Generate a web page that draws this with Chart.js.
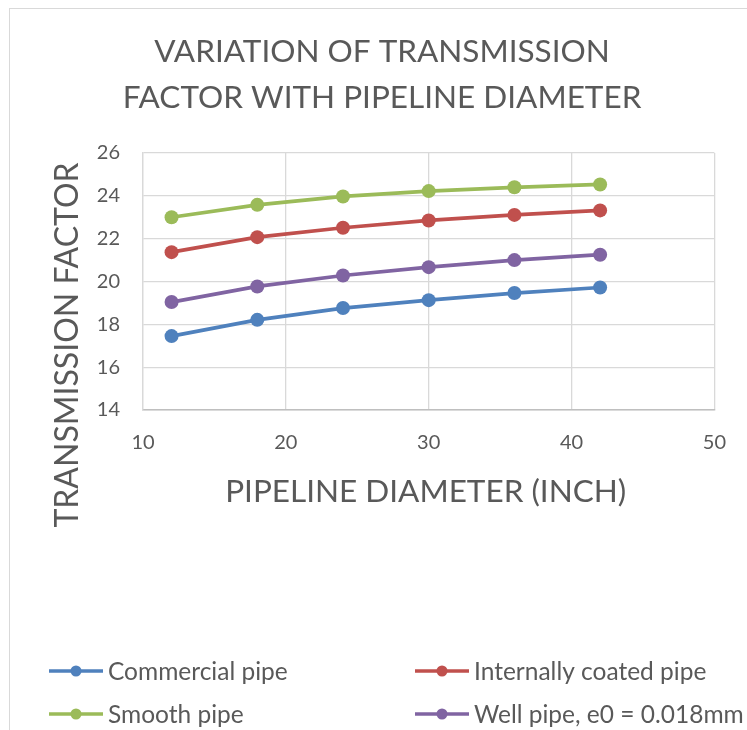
<!DOCTYPE html>
<html>
<head>
<meta charset="utf-8">
<script src="https://cdn.jsdelivr.net/npm/chart.js@4"></script>
<style>
  html, body { margin: 0; padding: 0; background: #fff; }
  #wrap { position: relative; width: 747px; height: 730px; overflow: hidden; }
  #frame { position: absolute; left: 9px; top: 8px; width: 800px; height: 800px; border: 1px solid #d9d9d9; box-sizing: border-box; }
  #myChart { position: absolute; left: 0; top: 0; }
</style>
</head>
<body>
<div id="wrap">
  <div id="frame"></div>
  <canvas id="myChart" width="747" height="730"></canvas>
</div>
<script>
const diameters = [12, 18, 24, 30, 36, 42];
const commercialPipe = [17.45, 18.21, 18.76, 19.13, 19.46, 19.72];
const coatedPipe = [21.37, 22.07, 22.51, 22.85, 23.11, 23.32];
const smoothPipe = [23.0, 23.58, 23.97, 24.22, 24.40, 24.53];
const wellPipe = [19.04, 19.77, 20.28, 20.67, 21.0, 21.25];

const seriesNames = ['Commercial pipe', 'Internally coated pipe', 'Smooth pipe', 'Well pipe, e0 = 0.018mm'];
const seriesColors = ['#4f81bd', '#c0504d', '#9bbb59', '#8064a2'];
const titleLines = ['VARIATION OF TRANSMISSION', 'FACTOR WITH PIPELINE DIAMETER'];
const xTitle = 'PIPELINE DIAMETER (INCH)';
const yTitle = 'TRANSMISSION FACTOR';

const FONT = 'Lato, "Open Sans", sans-serif';
const GREY = '#595959';

function toPoints(values) {
    return diameters.map((d, i) => ({ x: d, y: values[i] }));
}

const allSeries = [commercialPipe, coatedPipe, smoothPipe, wellPipe];
const datasets = allSeries.map((values, i) => ({
    label: seriesNames[i],
    data: toPoints(values),
    showLine: true,
    borderColor: seriesColors[i],
    backgroundColor: seriesColors[i],
    borderWidth: 3.75,
    pointRadius: 7,
    pointHoverRadius: 7,
    pointBorderWidth: 0,
    tension: 0
}));

// titles and the two-column legend are drawn by hand, Excel style
const textPlugin = {
    id: 'excelText',
    afterDraw(chart) {
        const ctx = chart.ctx;
        const area = chart.chartArea;
        ctx.save();
        ctx.fillStyle = GREY;

        ctx.font = '31.5px ' + FONT;
        ctx.textAlign = 'center';
        ctx.textBaseline = 'alphabetic';
        ctx.fillText(titleLines[0], 382, 62);
        ctx.fillText(titleLines[1], 382, 108);

        ctx.font = '31.5px ' + FONT;
        ctx.fillText(xTitle, (area.left + area.right) / 2 - 3, 502);

        ctx.font = '32px ' + FONT;
        ctx.save();
        ctx.translate(78, 345);
        ctx.rotate(-Math.PI / 2);
        ctx.fillText(yTitle, 0, 0);
        ctx.restore();

        // legend
        const cols = [49, 415];
        const rows = [671, 714];
        ctx.font = '24.5px ' + FONT;
        ctx.textAlign = 'left';
        chart.data.datasets.forEach((ds, i) => {
            const x = cols[i % 2];
            const y = rows[Math.floor(i / 2)];
            ctx.strokeStyle = ds.borderColor;
            ctx.lineWidth = 3.5;
            ctx.beginPath();
            ctx.moveTo(x, y);
            ctx.lineTo(x + 54, y);
            ctx.stroke();
            ctx.fillStyle = ds.borderColor;
            ctx.beginPath();
            ctx.arc(x + 27, y, 5.5, 0, Math.PI * 2);
            ctx.fill();
            ctx.fillStyle = GREY;
            ctx.fillText(ds.label, x + 59, y + 9);
        });
        ctx.restore();
    }
};

new Chart(document.getElementById('myChart').getContext('2d'), {
    type: 'scatter',
    data: { datasets: datasets },
    options: {
        responsive: false,
        animation: false,
        layout: { padding: { top: 153, right: 28, left: 0, bottom: 0 } },
        plugins: {
            legend: { display: false },
            title: { display: false },
            tooltip: { enabled: false }
        },
        scales: {
            x: {
                type: 'linear',
                min: 10,
                max: 50,
                afterFit(scale) { scale.height = 320; },
                ticks: { stepSize: 10, padding: 21, color: GREY, font: { family: FONT, size: 20 } },
                grid: { color: '#d9d9d9', lineWidth: 1.3, drawTicks: false },
                border: { color: '#bfbfbf', width: 1.5 }
            },
            y: {
                min: 14,
                max: 26,
                afterFit(scale) { scale.width = 143; },
                ticks: { stepSize: 2, padding: 23, color: GREY, font: { family: FONT, size: 20 } },
                grid: { color: '#d9d9d9', lineWidth: 1.3, drawTicks: false },
                border: { color: '#d9d9d9', width: 1.3 }
            }
        }
    },
    plugins: [textPlugin]
});
</script>
</body>
</html>
